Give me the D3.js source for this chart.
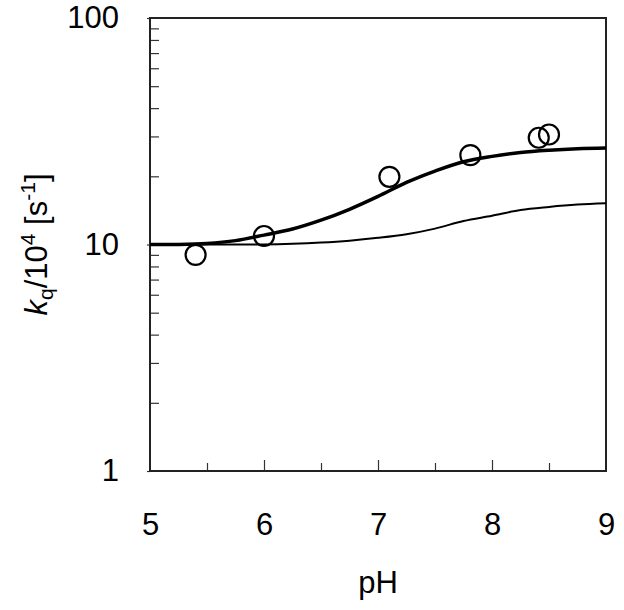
<!DOCTYPE html>
<html>
<head>
<meta charset="utf-8">
<script src="https://cdn.jsdelivr.net/npm/d3@7"></script>
<style>
  html, body { margin: 0; padding: 0; background: #fff; }
  svg text { font-family: Arial, "Liberation Sans", sans-serif; fill: #000; }
</style>
</head>
<body>
<svg id="chart" width="624" height="610"></svg>
<script>
// ---- data ----
const xTickValues = [5, 6, 7, 8, 9];
const yTickValues = [1, 10, 100];
const obsPH = [5.40, 6.00, 7.10, 7.81, 8.41, 8.50];
const obsK  = [9.0, 10.9, 19.9, 24.8, 29.6, 30.6];
const curvePH    = [5, 5.25, 5.5, 5.75, 6, 6.25, 6.5, 6.75, 7, 7.25, 7.5, 7.75, 8, 8.25, 8.5, 8.75, 9];
const thickCurve = [10.0, 10.0, 10.1, 10.4, 11.0, 11.7, 12.8, 14.3, 16.3, 18.8, 21.1, 23.2, 24.5, 25.5, 26.1, 26.5, 26.7];
const thinCurve  = [10.0, 10.0, 10.0, 10.0, 10.0, 10.07, 10.2, 10.4, 10.7, 11.1, 11.75, 12.7, 13.4, 14.2, 14.65, 15.0, 15.2];

// ---- layout ----
const svg = d3.select("#chart");
const mLeft = 150, mTop = 18, mRight = 606, mBottom = 471;

const x = d3.scaleLinear().domain([5, 9]).range([mLeft, mRight]);
const y = d3.scaleLog().domain([1, 100]).range([mBottom, mTop]);

const g = svg.append("g");

// minor x ticks (inside)
const xMinor = d3.range(5.5, 9, 1);
g.append("g").attr("transform", `translate(0,${mBottom})`)
  .call(d3.axisTop(x).tickValues(xMinor).tickSize(8).tickFormat(""))
  .call(s => s.select(".domain").remove())
  .selectAll("line").attr("stroke", "#333").attr("stroke-width", 1.2);
// major x ticks (inside)
g.append("g").attr("transform", `translate(0,${mBottom})`)
  .call(d3.axisTop(x).tickValues(xTickValues.slice(1, -1)).tickSize(11).tickFormat(""))
  .call(s => s.select(".domain").remove())
  .selectAll("line").attr("stroke", "#333").attr("stroke-width", 1.2);

// x tick labels
g.append("g").attr("transform", `translate(0,${mBottom})`)
  .call(d3.axisBottom(x).tickValues(xTickValues).tickSize(0).tickPadding(42).tickFormat(d3.format("d")))
  .call(s => s.select(".domain").remove())
  .selectAll("text").style("font-size", "31px").attr("fill", "#000");

// minor y ticks (inside)
const yMinor = [];
[1, 10].forEach(dec => { for (let m = 2; m <= 9; m++) yMinor.push(dec * m); });
g.append("g").attr("transform", `translate(${mLeft},0)`)
  .call(d3.axisRight(y).tickValues(yMinor).tickSize(9).tickFormat(""))
  .call(s => s.select(".domain").remove())
  .selectAll("line").attr("stroke", "#333").attr("stroke-width", 1.2);

// major y ticks (short, outside) with labels
g.append("g").attr("transform", `translate(${mLeft},0)`)
  .call(d3.axisLeft(y).tickValues(yTickValues).tickSize(3).tickPadding(28).tickFormat(d3.format("d")))
  .call(s => s.select(".domain").remove())
  .call(s => s.selectAll("line").attr("stroke", "#333").attr("stroke-width", 1.2))
  .selectAll("text").style("font-size", "31px").attr("fill", "#000");

// frame
g.append("rect")
  .attr("x", mLeft).attr("y", mTop)
  .attr("width", mRight - mLeft).attr("height", mBottom - mTop)
  .attr("fill", "none").attr("stroke", "#222").attr("stroke-width", 2);

// curves
const line = d3.line()
  .x(d => x(d[0])).y(d => y(d[1]))
  .curve(d3.curveCatmullRom.alpha(0.5));

g.append("path")
  .datum(curvePH.map((p, i) => [p, thinCurve[i]]))
  .attr("d", line).attr("fill", "none")
  .attr("stroke", "#000").attr("stroke-width", 2);

g.append("path")
  .datum(curvePH.map((p, i) => [p, thickCurve[i]]))
  .attr("d", line).attr("fill", "none")
  .attr("stroke", "#000").attr("stroke-width", 3.5);

// observed points
g.append("g").selectAll("circle")
  .data(obsPH.map((p, i) => [p, obsK[i]]))
  .join("circle")
  .attr("cx", d => x(d[0])).attr("cy", d => y(d[1]))
  .attr("r", 10)
  .attr("fill", "none").attr("stroke", "#000").attr("stroke-width", 2.2);

// x axis title
svg.append("text")
  .attr("x", (mLeft + mRight) / 2).attr("y", 593)
  .attr("text-anchor", "middle")
  .style("font-size", "31px")
  .text("pH");

// y axis title
const yt = svg.append("text")
  .attr("transform", `translate(47,${(mTop + mBottom) / 2}) rotate(-90)`)
  .attr("text-anchor", "middle")
  .style("font-size", "31px");
yt.append("tspan").style("font-style", "italic").text("k");
yt.append("tspan").attr("dy", 6).style("font-size", "21px").text("q");
yt.append("tspan").attr("dy", -6).text("/10");
yt.append("tspan").attr("dy", -12).style("font-size", "21px").text("4");
yt.append("tspan").attr("dy", 12).text(" [s");
yt.append("tspan").attr("dy", -12).style("font-size", "21px").text("-1");
yt.append("tspan").attr("dy", 12).text("]");
</script>
</body>
</html>
